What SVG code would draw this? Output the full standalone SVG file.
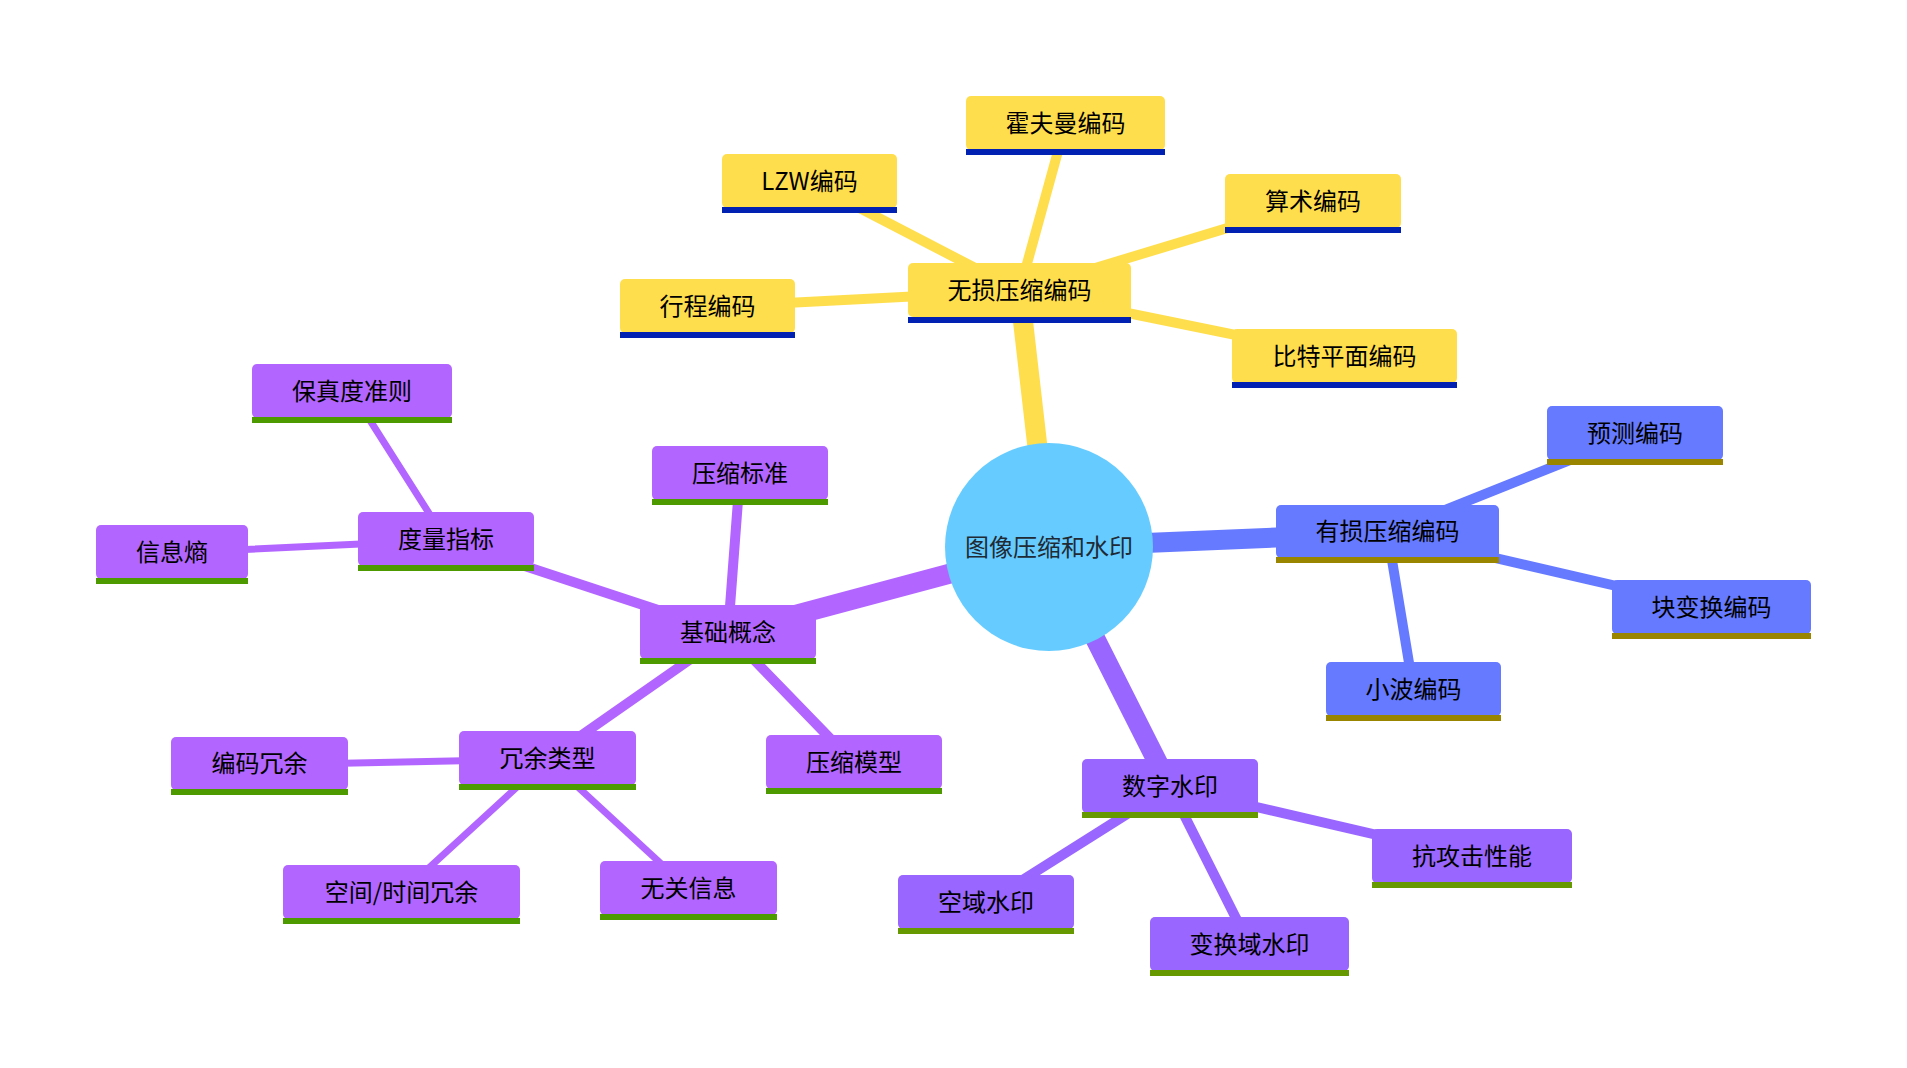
<svg xmlns="http://www.w3.org/2000/svg" width="1907" height="1068" viewBox="0 0 1907 1068">
<style>
.e{fill:none;stroke-linecap:round}
.d1{stroke-width:20}
.d2{stroke-width:10}
.d3{stroke-width:7}
.y{stroke:#ffde4d}
.b{stroke:#667aff}
.v{stroke:#9966ff}
.p{stroke:#b266ff}
.ny rect.bg{fill:#ffde4d}.ny rect.ul{fill:#0021b2}
.nb rect.bg{fill:#667aff}.nb rect.ul{fill:#998500}
.nv rect.bg{fill:#9966ff}.nv rect.ul{fill:#669900}
.np rect.bg{fill:#b266ff}.np rect.ul{fill:#4d9900}
text{font-family:"Noto Sans CJK SC","Noto Sans",sans-serif;font-size:24px;fill:#000;text-anchor:middle;dominant-baseline:central}
</style>
<rect width="1907" height="1068" fill="#ffffff"/>
<g id="connectors">
<line class="e d1 y" x1="1049" y1="547" x2="1019.5" y2="291"/>
<line class="e d1 b" x1="1049" y1="547" x2="1387.5" y2="533"/>
<line class="e d1 v" x1="1049" y1="547" x2="1170" y2="787"/>
<line class="e d1 p" x1="1049" y1="547" x2="728" y2="633"/>
<line class="e d2 y" x1="1019.5" y1="291" x2="1065.5" y2="124"/>
<line class="e d2 y" x1="1019.5" y1="291" x2="809.5" y2="182"/>
<line class="e d2 y" x1="1019.5" y1="291" x2="1313" y2="202"/>
<line class="e d2 y" x1="1019.5" y1="291" x2="707.5" y2="307"/>
<line class="e d2 y" x1="1019.5" y1="291" x2="1344.5" y2="357"/>
<line class="e d2 b" x1="1387.5" y1="533" x2="1635" y2="434"/>
<line class="e d2 b" x1="1387.5" y1="533" x2="1711.5" y2="608"/>
<line class="e d2 b" x1="1387.5" y1="533" x2="1413.5" y2="690"/>
<line class="e d2 v" x1="1170" y1="787" x2="1472" y2="857"/>
<line class="e d2 v" x1="1170" y1="787" x2="986" y2="903"/>
<line class="e d2 v" x1="1170" y1="787" x2="1249.5" y2="945"/>
<line class="e d2 p" x1="728" y1="633" x2="740" y2="474"/>
<line class="e d2 p" x1="728" y1="633" x2="446" y2="540"/>
<line class="e d2 p" x1="728" y1="633" x2="547.5" y2="759"/>
<line class="e d2 p" x1="728" y1="633" x2="854" y2="763"/>
<line class="e d3 p" x1="446" y1="540" x2="352" y2="392"/>
<line class="e d3 p" x1="446" y1="540" x2="172" y2="553"/>
<line class="e d3 p" x1="547.5" y1="759" x2="259.5" y2="765"/>
<line class="e d3 p" x1="547.5" y1="759" x2="401.5" y2="893"/>
<line class="e d3 p" x1="547.5" y1="759" x2="688.5" y2="889"/>
</g>
<g id="root">
<circle cx="1049" cy="547" r="104" fill="#66ccff"/>
<text x="1049" y="545" style="fill:#1f2a35">图像压缩和水印</text>
</g>
<g id="n-wusun" class="ny"><rect class="bg" x="908" y="263" width="223" height="54" rx="5"/><rect class="ul" x="908" y="317" width="223" height="6"/><text x="1019.5" y="288">无损压缩编码</text></g>
<g id="n-huofuman" class="ny"><rect class="bg" x="966" y="96" width="199" height="54" rx="5"/><rect class="ul" x="966" y="149" width="199" height="6"/><text x="1065.5" y="121">霍夫曼编码</text></g>
<g id="n-lzw" class="ny"><rect class="bg" x="722" y="154" width="175" height="54" rx="5"/><rect class="ul" x="722" y="207" width="175" height="6"/><text x="809.5" y="179">LZW编码</text></g>
<g id="n-suanshu" class="ny"><rect class="bg" x="1225" y="174" width="176" height="54" rx="5"/><rect class="ul" x="1225" y="227" width="176" height="6"/><text x="1313" y="199">算术编码</text></g>
<g id="n-xingcheng" class="ny"><rect class="bg" x="620" y="279" width="175" height="54" rx="5"/><rect class="ul" x="620" y="332" width="175" height="6"/><text x="707.5" y="304">行程编码</text></g>
<g id="n-bite" class="ny"><rect class="bg" x="1232" y="329" width="225" height="54" rx="5"/><rect class="ul" x="1232" y="382" width="225" height="6"/><text x="1344.5" y="354">比特平面编码</text></g>
<g id="n-yousun" class="nb"><rect class="bg" x="1276" y="505" width="223" height="53" rx="5"/><rect class="ul" x="1276" y="557" width="223" height="6"/><text x="1387.5" y="529">有损压缩编码</text></g>
<g id="n-yuce" class="nb"><rect class="bg" x="1547" y="406" width="176" height="54" rx="5"/><rect class="ul" x="1547" y="459" width="176" height="6"/><text x="1635" y="431">预测编码</text></g>
<g id="n-kuai" class="nb"><rect class="bg" x="1612" y="580" width="199" height="54" rx="5"/><rect class="ul" x="1612" y="633" width="199" height="6"/><text x="1711.5" y="605">块变换编码</text></g>
<g id="n-xiaobo" class="nb"><rect class="bg" x="1326" y="662" width="175" height="54" rx="5"/><rect class="ul" x="1326" y="715" width="175" height="6"/><text x="1413.5" y="687">小波编码</text></g>
<g id="n-shuzi" class="nv"><rect class="bg" x="1082" y="759" width="176" height="54" rx="5"/><rect class="ul" x="1082" y="812" width="176" height="6"/><text x="1170" y="784">数字水印</text></g>
<g id="n-kanggongji" class="nv"><rect class="bg" x="1372" y="829" width="200" height="54" rx="5"/><rect class="ul" x="1372" y="882" width="200" height="6"/><text x="1472" y="854">抗攻击性能</text></g>
<g id="n-kongyu" class="nv"><rect class="bg" x="898" y="875" width="176" height="54" rx="5"/><rect class="ul" x="898" y="928" width="176" height="6"/><text x="986" y="900">空域水印</text></g>
<g id="n-bianhuanyu" class="nv"><rect class="bg" x="1150" y="917" width="199" height="54" rx="5"/><rect class="ul" x="1150" y="970" width="199" height="6"/><text x="1249.5" y="942">变换域水印</text></g>
<g id="n-jichu" class="np"><rect class="bg" x="640" y="605" width="176" height="54" rx="5"/><rect class="ul" x="640" y="658" width="176" height="6"/><text x="728" y="630">基础概念</text></g>
<g id="n-biaozhun" class="np"><rect class="bg" x="652" y="446" width="176" height="54" rx="5"/><rect class="ul" x="652" y="499" width="176" height="6"/><text x="740" y="471">压缩标准</text></g>
<g id="n-duliang" class="np"><rect class="bg" x="358" y="512" width="176" height="54" rx="5"/><rect class="ul" x="358" y="565" width="176" height="6"/><text x="446" y="537">度量指标</text></g>
<g id="n-baozhen" class="np"><rect class="bg" x="252" y="364" width="200" height="54" rx="5"/><rect class="ul" x="252" y="417" width="200" height="6"/><text x="352" y="389">保真度准则</text></g>
<g id="n-xinxishang" class="np"><rect class="bg" x="96" y="525" width="152" height="54" rx="5"/><rect class="ul" x="96" y="578" width="152" height="6"/><text x="172" y="550">信息熵</text></g>
<g id="n-rongyu" class="np"><rect class="bg" x="459" y="731" width="177" height="54" rx="5"/><rect class="ul" x="459" y="784" width="177" height="6"/><text x="547.5" y="756">冗余类型</text></g>
<g id="n-bianma" class="np"><rect class="bg" x="171" y="737" width="177" height="53" rx="5"/><rect class="ul" x="171" y="789" width="177" height="6"/><text x="259.5" y="761">编码冗余</text></g>
<g id="n-kongjian" class="np"><rect class="bg" x="283" y="865" width="237" height="54" rx="5"/><rect class="ul" x="283" y="918" width="237" height="6"/><text x="401.5" y="890">空间/时间冗余</text></g>
<g id="n-wuguan" class="np"><rect class="bg" x="600" y="861" width="177" height="54" rx="5"/><rect class="ul" x="600" y="914" width="177" height="6"/><text x="688.5" y="886">无关信息</text></g>
<g id="n-moxing" class="np"><rect class="bg" x="766" y="735" width="176" height="54" rx="5"/><rect class="ul" x="766" y="788" width="176" height="6"/><text x="854" y="760">压缩模型</text></g>
</svg>
